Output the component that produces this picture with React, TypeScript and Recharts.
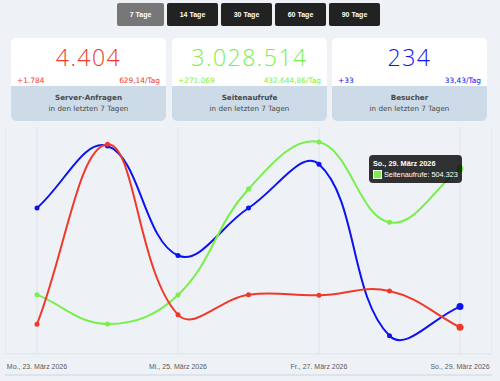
import { LineChart, Line, XAxis, YAxis, CartesianGrid, Tooltip } from "recharts";

const days = [
  "Mo., 23. März 2026",
  "Di., 24. März 2026",
  "Mi., 25. März 2026",
  "Do., 26. März 2026",
  "Fr., 27. März 2026",
  "Sa., 28. März 2026",
  "So., 29. März 2026",
];
const tickDays = [days[0], days[2], days[4], days[6]];

const anfragen = [270, 1898, 356, 537, 531, 570, 242];
const seitenaufrufe = [365321, 332996, 364990, 481930, 533761, 445193, 504323];
const besucher = [40, 57, 27, 40, 52, 5, 13];

const ranges = ["7 Tage", "14 Tage", "30 Tage", "60 Tage", "90 Tage"];
const cardLabels = ["Server-Anfragen", "Seitenaufrufe", "Besucher"];
const cardDiffs = [1784, 271069, 33];

const RED = "#f0392b";
const GREEN = "#78ef4a";
const BLUE = "#0d12f0";
const cardColors = [RED, GREEN, BLUE];
const cardSeries = [anfragen, seitenaufrufe, besucher];

const data = days.map((d, i) => ({
  day: d,
  anfragen: anfragen[i],
  seitenaufrufe: seitenaufrufe[i],
  besucher: besucher[i],
}));

function fmt(n: number, dec = 0) {
  const fixed = n.toFixed(dec);
  const [int, frac] = fixed.split(".");
  const withDots = int.replace(/\B(?=(\d{3})+(?!\d))/g, ".");
  return frac ? withDots + "," + frac : withDots;
}

// chart.js style bezier (tension 0.4)
function splineCurve(context: any) {
  let pts: number[][] = [];
  const t = 0.4;
  return {
    areaStart() {},
    areaEnd() {},
    lineStart() {
      pts = [];
    },
    point(x: number, y: number) {
      pts.push([+x, +y]);
    },
    lineEnd() {
      const n = pts.length;
      if (!n) return;
      context.moveTo(pts[0][0], pts[0][1]);
      if (n === 1) return;
      const cps = pts.map((p, i) => {
        const prev = pts[i - 1] || p;
        const next = pts[i + 1] || p;
        const d01 = Math.hypot(p[0] - prev[0], p[1] - prev[1]);
        const d12 = Math.hypot(next[0] - p[0], next[1] - p[1]);
        let s01 = d01 / (d01 + d12);
        let s12 = d12 / (d01 + d12);
        if (isNaN(s01)) s01 = 0;
        if (isNaN(s12)) s12 = 0;
        const fa = t * s01;
        const fb = t * s12;
        return {
          prev: [p[0] - fa * (next[0] - prev[0]), p[1] - fa * (next[1] - prev[1])],
          next: [p[0] + fb * (next[0] - prev[0]), p[1] + fb * (next[1] - prev[1])],
        };
      });
      for (let i = 1; i < n; i++) {
        context.bezierCurveTo(
          cps[i - 1].next[0],
          cps[i - 1].next[1],
          cps[i].prev[0],
          cps[i].prev[1],
          pts[i][0],
          pts[i][1]
        );
      }
    },
  };
}

function TooltipBox({ active, payload, label }: any) {
  if (!active || !payload) return null;
  const item = payload.find((p: any) => p.dataKey === "seitenaufrufe");
  if (!item) return null;
  return (
    <div
      style={{
        background: "rgba(0,0,0,0.8)",
        borderRadius: 4,
        padding: "3px 4px",
        color: "#fff",
        fontFamily: "'Liberation Sans', Arial, sans-serif",
        fontSize: 7.3,
        lineHeight: "11px",
        whiteSpace: "nowrap",
      }}
    >
      <div style={{ fontWeight: "bold" }}>{label}</div>
      <div style={{ display: "flex", alignItems: "center" }}>
        <span
          style={{
            display: "inline-block",
            width: 7,
            height: 7,
            background: GREEN,
            border: "1px solid #fff",
            marginRight: 2,
          }}
        />
        Seitenaufrufe: {fmt(item.value)}
      </div>
    </div>
  );
}

export default function App() {
  return (
    <div
      style={{
        position: "fixed",
        left: 0,
        top: 0,
        width: 500,
        height: 381,
        background: "#eef2f7",
        fontFamily: "'DejaVu Sans', Verdana, sans-serif",
      }}
    >
      <div style={{ position: "absolute", left: 117, top: 3, display: "flex", gap: 3 }}>
        {ranges.map((r, i) => (
          <div
            key={r}
            style={{
              width: i === 0 ? 47 : 51,
              height: 23,
              background: i === 0 ? "#777" : "#222",
              color: "#fff",
              borderRadius: 2,
              fontFamily: "'Liberation Sans', Arial, sans-serif",
              fontWeight: "bold",
              fontSize: 7,
              display: "flex",
              alignItems: "center",
              justifyContent: "center",
            }}
          >
            {r}
          </div>
        ))}
      </div>

      {cardLabels.map((lab, i) => {
        const total = cardSeries[i].reduce((a, b) => a + b, 0);
        return (
          <div
            key={lab}
            style={{
              position: "absolute",
              left: [11, 172, 332][i],
              top: 38,
              width: 155,
              height: 83,
              borderRadius: 5,
              overflow: "hidden",
              background: "#fff",
            }}
          >
            <div
              style={{
                position: "absolute",
                left: 0,
                right: 0,
                top: 4,
                textAlign: "center",
                color: cardColors[i],
                fontFamily: "'Open Sans', sans-serif",
                fontWeight: 300,
                fontSize: 23,
                letterSpacing: 1.5,
                lineHeight: "30px",
              }}
            >
              {fmt(total)}
            </div>
            <div
              style={{
                position: "absolute",
                left: 6,
                right: 6,
                top: 38,
                display: "flex",
                justifyContent: "space-between",
                color: cardColors[i],
                fontSize: 7.4,
                lineHeight: "10px",
              }}
            >
              <span>+{fmt(cardDiffs[i])}</span>
              <span>{fmt(total / 7, 2)}/Tag</span>
            </div>
            <div
              style={{
                position: "absolute",
                left: 0,
                right: 0,
                top: 48,
                height: 35,
                background: "#ccdbe7",
                color: "#4a4a4a",
                textAlign: "center",
                fontSize: 7.2,
                lineHeight: "11px",
                paddingTop: 6,
                boxSizing: "border-box",
              }}
            >
              <div style={{ fontWeight: "bold" }}>{lab}</div>
              <div>in den letzten 7 Tagen</div>
            </div>
          </div>
        );
      })}

      <div
        style={{
          position: "absolute",
          left: 5,
          top: 120,
          width: 487,
          height: 254,
          borderBottom: "2px solid #dde3ea",
        }}
      >
        <LineChart width={487} height={250} data={data} margin={{ top: 7, right: 0, bottom: 0, left: 0 }}>
          <CartesianGrid horizontal={false} stroke="#dfe4ea" />
          <XAxis
            dataKey="day"
            ticks={tickDays}
            interval={0}
            height={16}
            padding={{ left: 32, right: 32 }}
            tickLine={false}
            tickMargin={4}
            axisLine={{ stroke: "#dde3ea" }}
            tick={{ fontSize: 7, fill: "#5a5a5a", fontFamily: "'Liberation Sans', Arial, sans-serif" }}
          />
          <YAxis yAxisId="a" hide domain={[0, 2054]} />
          <YAxis yAxisId="s" hide domain={[299900, 550330]} />
          <YAxis yAxisId="b" hide domain={[0, 62.2]} />
          <Tooltip
            defaultIndex={6}
            content={<TooltipBox />}
            position={{ x: 364, y: 35 }}
            cursor={false}
            isAnimationActive={false}
          />
          <Line
            yAxisId="b"
            dataKey="besucher"
            type={splineCurve as any}
            stroke={BLUE}
            strokeWidth={2}
            dot={{ r: 2.5, fill: BLUE, stroke: "none" }}
            activeDot={{ r: 3.5, fill: BLUE, stroke: BLUE, strokeWidth: 0 }}
            isAnimationActive={false}
          />
          <Line
            yAxisId="s"
            dataKey="seitenaufrufe"
            type={splineCurve as any}
            stroke={GREEN}
            strokeWidth={2}
            dot={{ r: 2.5, fill: GREEN, stroke: "none" }}
            activeDot={{ r: 3.5, fill: GREEN, stroke: GREEN, strokeWidth: 0 }}
            isAnimationActive={false}
          />
          <Line
            yAxisId="a"
            dataKey="anfragen"
            type={splineCurve as any}
            stroke={RED}
            strokeWidth={2}
            dot={{ r: 2.5, fill: RED, stroke: "none" }}
            activeDot={{ r: 3.5, fill: RED, stroke: RED, strokeWidth: 0 }}
            isAnimationActive={false}
          />
        </LineChart>
      </div>
    </div>
  );
}
